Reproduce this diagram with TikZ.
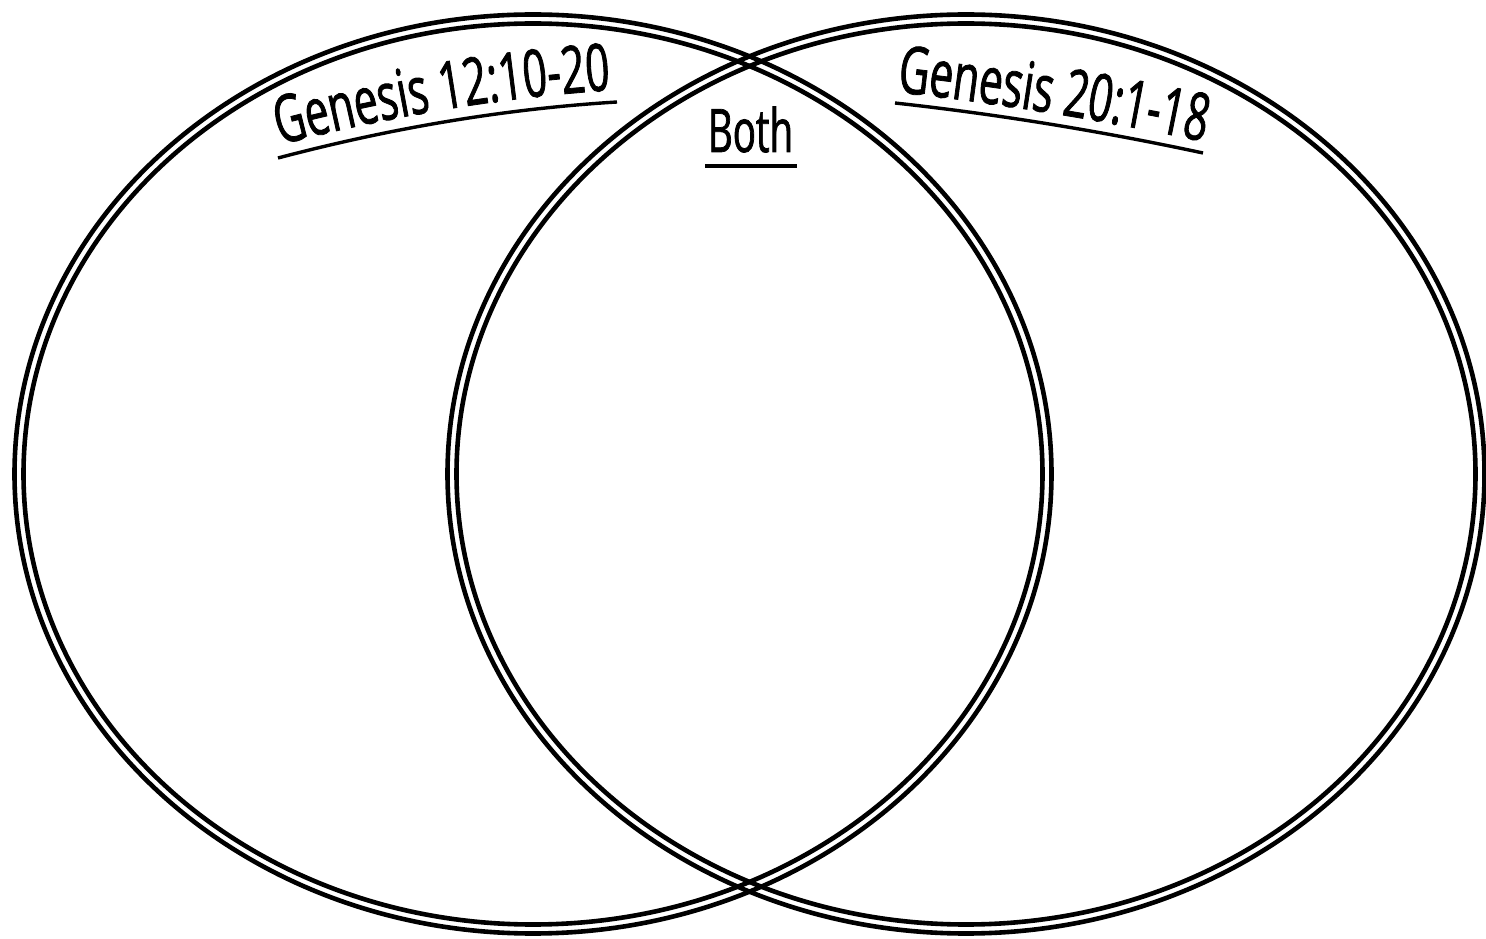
\documentclass[tikz,border=0pt]{standalone}
\usepackage{fontspec}
\newfontfamily\gfont[FakeStretch=0.64,FakeBold=1.2]{Open Sans}
\usetikzlibrary{decorations.text}
\begin{document}
\begin{tikzpicture}[x=1pt,y=1pt,
  ringline/.style={draw=black, line width=4.6pt},
  uline/.style={draw=black, line width=3.4pt},
  lbl/.style={font=\fontsize{60}{64}\gfont, inner sep=0pt}]
\useasboundingbox (0,0) rectangle (1486,938);
% left circle (double line)
\draw[ringline] (533,464) ellipse [x radius=518.5, y radius=459.5];
\draw[ringline] (533,464) ellipse [x radius=509.5, y radius=450.5];
% right circle (double line)
\draw[ringline] (966,464) ellipse [x radius=518.5, y radius=459.5];
\draw[ringline] (966,464) ellipse [x radius=509.5, y radius=450.5];
% left title
\path[decorate, decoration={text along path, text align=center,
  text={|\fontsize{66}{70}\gfont|Genesis 12:10-20}}]
  (275,792) .. controls (391.5,822.5) and (505,841.3) .. (616,848);
\coordinate (lu1) at (278,780);
\coordinate (lu2) at (617,836);
\draw[uline] (lu1) .. controls (394.3,810.7) and (507.3,829.3) .. (lu2);
% right title
\path[decorate, decoration={text along path, text align=center,
  text={|\fontsize{66}{70}\gfont|Genesis 20:1-18}}]
  (896,846) .. controls (999,834.6) and (1102.5,817.8) .. (1205,796);
\coordinate (ru1) at (895,835);
\coordinate (ru2) at (1203,785);
\draw[uline] (ru1) .. controls (997.7,823.7) and (1100.3,807) .. (ru2);
% both
\node[lbl, anchor=base] (both) at (750.5,786) {Both};
\coordinate (bu1) at (705,772);
\coordinate (bu2) at (797,772);
\draw[uline] (bu1) -- (bu2);
\end{tikzpicture}
\end{document}
